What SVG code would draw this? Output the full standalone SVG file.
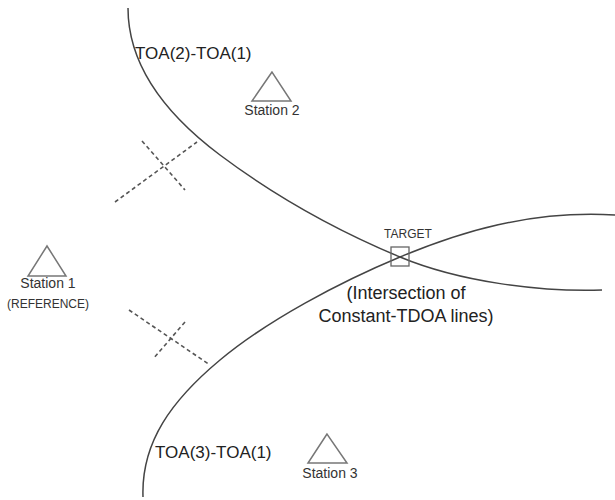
<svg xmlns="http://www.w3.org/2000/svg" width="615" height="500" viewBox="0 0 615 500">
<style>
text{font-family:"Liberation Sans",Arial,sans-serif;fill:#333}
.curve{fill:none;stroke:#444;stroke-width:1.5}
.dash{fill:none;stroke:#555;stroke-width:1.6;stroke-dasharray:4 3}
.tri{fill:none;stroke:#777;stroke-width:1.5}
.st{font-size:14px;text-anchor:middle}
.lbl{font-size:17px;fill:#222}
.big{font-size:18px;text-anchor:middle;fill:#222}
</style>
<rect width="615" height="500" fill="#fff"/>
<g id="connectors">
<path class="curve" d="M128,8 C128,60 160,110 220,155 S340,232 400,257 S540,292 602,290"/>
<path class="curve" d="M143,497 C141,442 172,400 220,360 S340,282 400,257 S530,210 615,215"/>
<line class="dash" x1="115" y1="202" x2="197" y2="142"/>
<line class="dash" x1="142" y1="141" x2="185" y2="190"/>
<line class="dash" x1="129" y1="310" x2="210" y2="365"/>
<line class="dash" x1="185" y1="322" x2="153" y2="359"/>
</g>
<g id="label-toa21"><text class="lbl" x="135" y="59">TOA(2)-TOA(1)</text></g>
<g id="label-toa31"><text class="lbl" x="155" y="458">TOA(3)-TOA(1)</text></g>
<g id="station1">
<polygon class="tri" points="47,246 28,276 66,276"/>
<text class="st" x="48" y="288">Station 1</text>
<text class="st" x="48" y="308" style="font-size:12px">(REFERENCE)</text>
</g>
<g id="station2">
<polygon class="tri" points="272,72 252,101 291,101"/>
<text class="st" x="272" y="115">Station 2</text>
</g>
<g id="station3">
<polygon class="tri" points="327,434 308,463 347,463"/>
<text class="st" x="330" y="478">Station 3</text>
</g>
<g id="target">
<rect x="391" y="247" width="18" height="19" fill="none" stroke="#666" stroke-width="1.3"/>
<text x="408" y="238" style="font-size:12px;text-anchor:middle">TARGET</text>
<text class="big" x="406" y="299">(Intersection of</text>
<text class="big" x="406" y="322">Constant-TDOA lines)</text>
</g>
</svg>
